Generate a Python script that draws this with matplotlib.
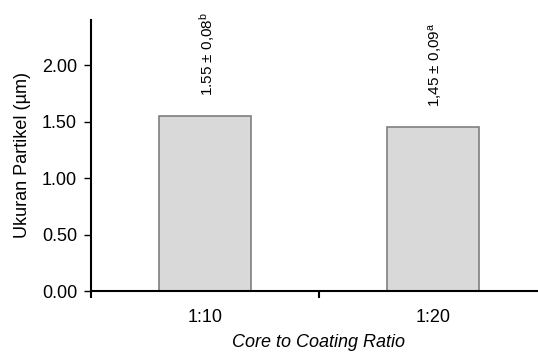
import matplotlib
matplotlib.use('Agg')
import matplotlib.pyplot as plt
import numpy as np

plt.rcParams['font.family'] = ['Liberation Sans', 'DejaVu Sans']
plt.rcParams['mathtext.fontset'] = 'custom'
plt.rcParams['mathtext.rm'] = 'Liberation Sans'
plt.rcParams['mathtext.it'] = 'Liberation Sans:italic'

# particle size per core:coating ratio
ratios = ['1:10', '1:20']
sizes = [1.55, 1.45]
labels = [r'1.55 ± 0,08$^{\mathrm{b}}$', r'1,45 ± 0,09$^{\mathrm{a}}$']
yticks = [0, 0.5, 1.0, 1.5, 2.0]

fig = plt.figure(figsize=(5.38, 3.53), dpi=100)
ax = fig.add_axes([91 / 538, 1 - 291 / 353, (547 - 91) / 538, (291 - 20) / 353])

x = np.arange(len(ratios))
ax.bar(x, sizes, width=0.40, color='#d9d9d9', edgecolor='#7f7f7f', linewidth=1.2, zorder=2)

for xi, v, lab in zip(x, sizes, labels):
    ax.text(xi + 0.01, v + 0.18, lab, rotation=90, ha='center', va='bottom', fontsize=11)

ax.set_xlim(-0.5, 1.5)
ax.set_ylim(0, 2.4)
ax.set_yticks(yticks)
ax.set_yticklabels(['%.2f' % t for t in yticks], fontsize=13)
ax.set_xticks(x)
ax.set_xticklabels(ratios, fontsize=13)
ax.tick_params(axis='x', which='major', length=0, pad=13)
ax.set_xticks([-0.5, 0.5, 1.5], minor=True)
ax.tick_params(axis='x', which='minor', length=5, width=1.5, direction='out')
ax.tick_params(axis='y', length=5, width=1.0, direction='out', pad=5)

for s in ['top', 'right']:
    ax.spines[s].set_visible(False)
ax.spines['left'].set_linewidth(1.5)
ax.spines['bottom'].set_linewidth(1.5)

ax.set_ylabel('Ukuran Partikel (µm)', fontsize=13, labelpad=8)
ax.set_xlabel('Core to Coating Ratio', fontsize=13, style='italic', labelpad=6)

fig.savefig('out.png', dpi=100)
